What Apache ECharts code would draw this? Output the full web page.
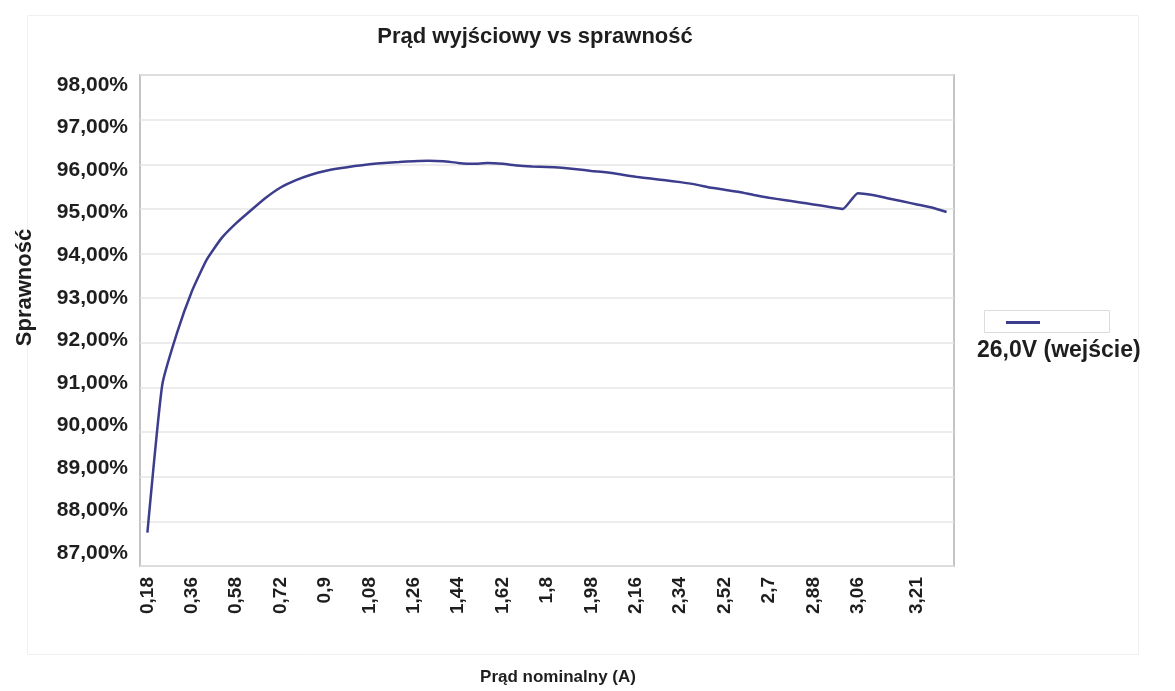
<!DOCTYPE html>
<html>
<head>
<meta charset="utf-8">
<script src="https://cdn.jsdelivr.net/npm/echarts@6/dist/echarts.min.js"></script>
<style>
html,body{margin:0;padding:0;background:#fff;}
#c{width:1175px;height:691px;}
</style>
</head>
<body>
<div id="c"></div>
<script>
// Categories: output current (A)
const categories = ["0,18","0,24","0,3","0,36","0,42","0,48","0,58","0,6","0,66","0,72",
  "0,78","0,84","0,9","0,96","1,02","1,08","1,14","1,2","1,26","1,32",
  "1,38","1,44","1,5","1,56","1,62","1,68","1,74","1,8","1,86","1,92",
  "1,98","2,04","2,1","2,16","2,22","2,28","2,34","2,4","2,46","2,52",
  "2,58","2,64","2,7","2,76","2,82","2,88","2,94","3","3,06","3,1",
  "3,14","3,17","3,21","3,25","3,29"];
// Indices of categories that carry a tick label
const labelIdx = [0,3,6,9,12,15,18,21,24,27,30,33,36,39,42,45,48,52];
// Efficiency (%) for 26,0V input
const eff26 = [87.75,91.05,92.22,93.15,93.86,94.34,94.68,94.97,95.25,95.48,
  95.64,95.76,95.85,95.91,95.96,96.00,96.03,96.05,96.07,96.08,
  96.07,96.03,96.01,96.03,96.01,95.97,95.95,95.94,95.92,95.89,
  95.85,95.82,95.77,95.72,95.68,95.64,95.60,95.55,95.48,95.43,
  95.38,95.31,95.25,95.20,95.15,95.10,95.05,95.00,95.35,95.31,
  95.24,95.17,95.10,95.03,94.93];
// Y axis range / tick step (%)
const yMin = 87, yMax = 98, yStep = 1;
const seriesName = "26,0V (wejście)";
const titleText = "Prąd wyjściowy vs sprawność";
const xName = "Prąd nominalny (A)";
const yName = "Sprawność";

const FONT = "'Liberation Sans', Arial, sans-serif";
const TXT = '#1e1e1e';
const pct = (v) => v.toFixed(2).replace('.', ',') + '%';
const chart = echarts.init(document.getElementById('c'));
chart.setOption({
  animation: false,
  backgroundColor: '#ffffff',
  title: {
    text: titleText,
    left: 530, top: 21, textAlign: 'center',
    textStyle: {fontFamily: FONT, fontSize: 22, fontWeight: 'bold', color: TXT}
  },
  graphic: [
    {type: 'rect', left: 25, top: 13, shape: {width: 1111, height: 639},
     style: {fill: 'none', stroke: '#f0f0f0', lineWidth: 1}, silent: true},
    {type: 'rect', left: 982, top: 308, shape: {width: 125, height: 22},
     style: {fill: 'none', stroke: '#dcdcdc', lineWidth: 1}, silent: true}
  ],
  legend: [
    {data: [seriesName], left: 1001, top: 316, icon: 'rect', itemWidth: 34, itemHeight: 3,
     formatter: () => '', textStyle: {fontSize: 1}},
    {data: [seriesName], left: 967, top: 334, icon: 'rect', itemWidth: 0, itemHeight: 0,
     textStyle: {fontFamily: FONT, fontSize: 23, fontWeight: 'bold', color: TXT}}
  ],
  grid: [
    {left: 140, right: 221, top: 75, bottom: 120, show: true,
     borderColor: '#c4c4c4', borderWidth: 2, backgroundColor: '#ffffff'},
    // label grid: tick labels of the value axis sit on a slightly tighter scale in the source
    {left: 140, right: 221, top: 85, bottom: 138, show: false}
  ],
  xAxis: [{
    type: 'category', data: categories, boundaryGap: true, gridIndex: 0,
    name: xName, nameLocation: 'middle', nameGap: 103,
    nameTextStyle: {fontFamily: FONT, fontSize: 17, fontWeight: 'bold', color: TXT, padding: [0,0,0,22]},
    axisLine: {show: false}, axisTick: {show: false},
    axisLabel: {interval: (i) => labelIdx.includes(i), rotate: 90, margin: 11,
      fontFamily: FONT, fontSize: 19, fontWeight: 'bold', color: TXT},
    splitLine: {show: false}
  }, {
    type: 'category', data: categories, gridIndex: 1, show: false
  }],
  yAxis: [{
    type: 'value', min: yMin, max: yMax, interval: yStep, gridIndex: 0,
    name: yName, nameLocation: 'middle', nameGap: 104, nameRotate: 90,
    nameTextStyle: {fontFamily: FONT, fontSize: 22, fontWeight: 'bold', color: TXT, padding: [0,0,0,66]},
    axisLine: {show: false}, axisTick: {show: false},
    axisLabel: {show: false},
    splitLine: {lineStyle: {color: '#e6e6e6', width: 1.5}}
  }, {
    type: 'value', min: yMin, max: yMax, interval: yStep, gridIndex: 1,
    axisLine: {show: false}, axisTick: {show: false}, splitLine: {show: false},
    axisLabel: {margin: 12, fontFamily: FONT, fontSize: 21, fontWeight: 'bold', color: TXT,
      formatter: pct}
  }],
  series: [{
    name: seriesName, type: 'line', data: eff26, xAxisIndex: 0, yAxisIndex: 0,
    showSymbol: false, symbol: 'none', smooth: 0.15,
    lineStyle: {color: '#3d3d8e', width: 2.5}, itemStyle: {color: '#3d3d8e'}
  }]
});
</script>
</body>
</html>
